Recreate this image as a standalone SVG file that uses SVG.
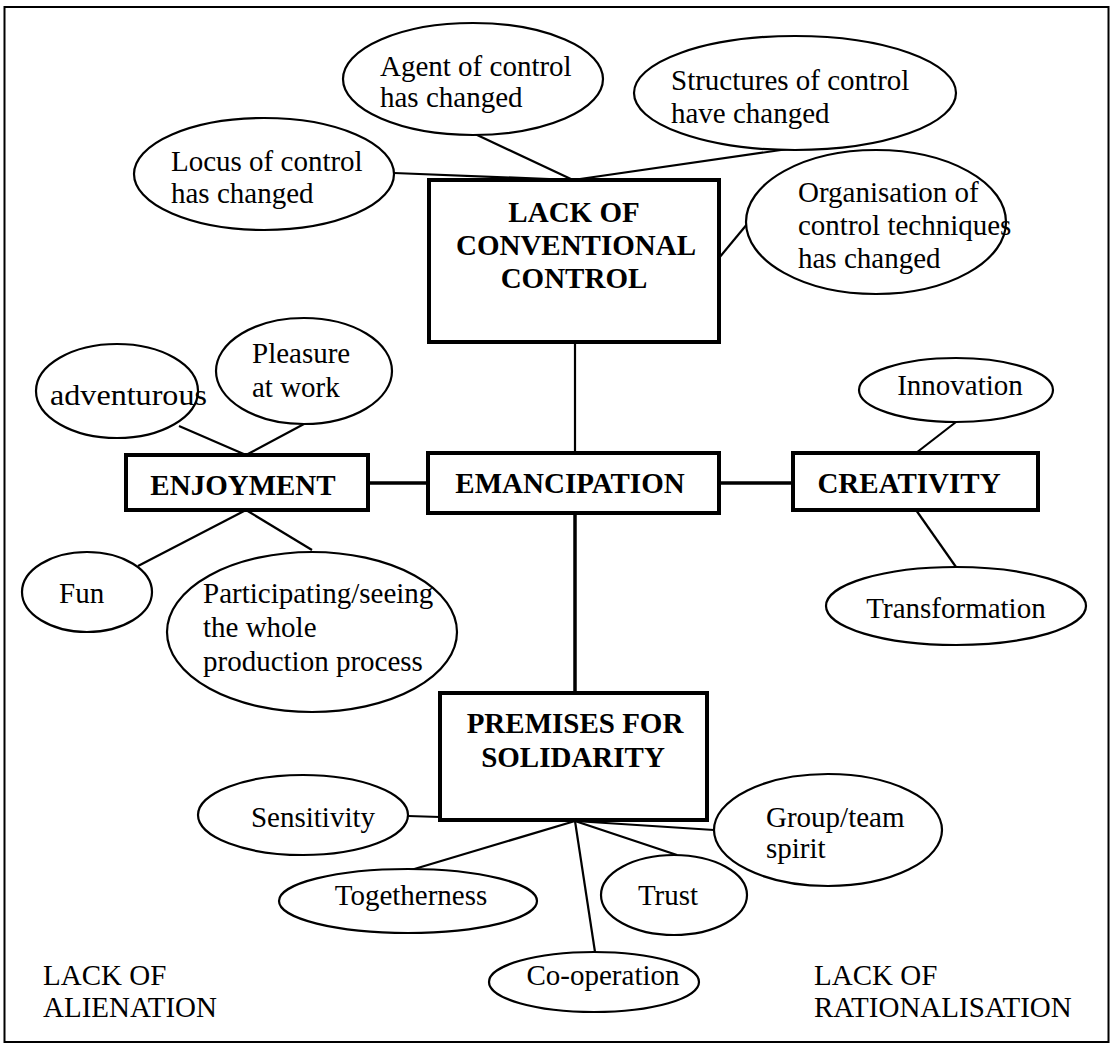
<svg xmlns="http://www.w3.org/2000/svg" width="1112" height="1044" viewBox="0 0 1112 1044">
  <style>
    .frame { fill: none; stroke: #000; stroke-width: 2; }
    .box { fill: #fff; stroke: #000; stroke-width: 4; }
    .oval { fill: #fff; stroke: #000; stroke-width: 2.2; }
    .link { stroke: #000; stroke-width: 2.2; fill: none; }
    .trunk { stroke: #000; stroke-width: 3.5; fill: none; }
    text { font-family: "Liberation Serif", "Times New Roman", serif; fill: #000; }
    .t { font-size: 29px; }
    .b { font-size: 29px; font-weight: bold; text-anchor: middle; }
    .c { text-anchor: middle; }
  </style>

  <rect class="frame" x="4.5" y="7" width="1104" height="1035"/>

  <!-- connectors -->
  <g id="connectors">
    <line class="link" x1="394" y1="173" x2="573" y2="180"/>
    <line class="link" x1="475" y1="134" x2="573" y2="180"/>
    <line class="link" x1="788" y1="149" x2="573" y2="180"/>
    <line class="link" x1="719" y1="258" x2="748" y2="223"/>
    <line class="link" x1="575" y1="342" x2="575" y2="453"/>
    <line class="trunk" x1="368" y1="483" x2="428" y2="483"/>
    <line class="trunk" x1="719" y1="483" x2="793" y2="483"/>
    <line class="trunk" x1="575" y1="513" x2="575" y2="693"/>
    <line class="link" x1="179" y1="426" x2="246" y2="455"/>
    <line class="link" x1="304" y1="424" x2="246" y2="455"/>
    <line class="link" x1="138" y1="566" x2="246" y2="510"/>
    <line class="link" x1="312" y1="550" x2="246" y2="510"/>
    <line class="link" x1="956" y1="422" x2="916" y2="453"/>
    <line class="link" x1="916" y1="510" x2="956" y2="567"/>
    <line class="link" x1="408" y1="816" x2="440" y2="817"/>
    <line class="link" x1="411" y1="870" x2="575" y2="821"/>
    <line class="link" x1="595" y1="952" x2="575" y2="821"/>
    <line class="link" x1="677" y1="855" x2="575" y2="821"/>
    <line class="link" x1="714" y1="830" x2="575" y2="821"/>
  </g>

  <!-- central boxes -->
  <g id="lack-of-conventional-control">
    <rect class="box" x="429" y="180" width="290" height="162"/>
    <text class="b" x="574" y="222">LACK OF</text>
    <text class="b" x="576" y="255">CONVENTIONAL</text>
    <text class="b" x="574" y="288">CONTROL</text>
  </g>
  <g id="emancipation">
    <rect class="box" x="428" y="453" width="291" height="60"/>
    <text class="b" x="570" y="493">EMANCIPATION</text>
  </g>
  <g id="enjoyment">
    <rect class="box" x="126" y="455" width="242" height="55"/>
    <text class="b" x="243" y="495">ENJOYMENT</text>
  </g>
  <g id="creativity">
    <rect class="box" x="793" y="453" width="245" height="57"/>
    <text class="b" x="909" y="493">CREATIVITY</text>
  </g>
  <g id="premises-for-solidarity">
    <rect class="box" x="440" y="693" width="267" height="127"/>
    <text class="b" x="575" y="733">PREMISES FOR</text>
    <text class="b" x="573" y="767">SOLIDARITY</text>
  </g>

  <!-- control ovals -->
  <g id="agent-of-control">
    <ellipse class="oval" cx="473" cy="79" rx="130" ry="56"/>
    <text class="t" x="380" y="76">Agent of control</text>
    <text class="t" x="380" y="107">has changed</text>
  </g>
  <g id="structures-of-control">
    <ellipse class="oval" cx="795" cy="93" rx="161" ry="57"/>
    <text class="t" x="671" y="90">Structures of control</text>
    <text class="t" x="671" y="123">have changed</text>
  </g>
  <g id="locus-of-control">
    <ellipse class="oval" cx="264" cy="174" rx="130" ry="56"/>
    <text class="t" x="171" y="171">Locus of control</text>
    <text class="t" x="171" y="203">has changed</text>
  </g>
  <g id="organisation-of-control">
    <ellipse class="oval" cx="876" cy="222" rx="130" ry="72"/>
    <text class="t" x="798" y="202">Organisation of</text>
    <text class="t" x="798" y="235">control techniques</text>
    <text class="t" x="798" y="268">has changed</text>
  </g>

  <!-- enjoyment ovals -->
  <g id="adventurous">
    <ellipse class="oval" cx="117" cy="391" rx="81" ry="47"/>
    <text class="t" x="50" y="405" textLength="157" lengthAdjust="spacingAndGlyphs">adventurous</text>
  </g>
  <g id="pleasure-at-work">
    <ellipse class="oval" cx="304" cy="371" rx="88" ry="53"/>
    <text class="t" x="252" y="363">Pleasure</text>
    <text class="t" x="252" y="397">at work</text>
  </g>
  <g id="fun">
    <ellipse class="oval" cx="87" cy="592" rx="65" ry="40"/>
    <text class="t" x="59" y="603">Fun</text>
  </g>
  <g id="participating">
    <ellipse class="oval" cx="312" cy="632" rx="145" ry="80"/>
    <text class="t" x="203" y="603">Participating/seeing</text>
    <text class="t" x="203" y="637">the whole</text>
    <text class="t" x="203" y="671">production process</text>
  </g>

  <!-- creativity ovals -->
  <g id="innovation">
    <ellipse class="oval" cx="956" cy="390" rx="97" ry="32"/>
    <text class="t c" x="960" y="395">Innovation</text>
  </g>
  <g id="transformation">
    <ellipse class="oval" cx="956" cy="606" rx="130" ry="39"/>
    <text class="t c" x="956" y="618">Transformation</text>
  </g>

  <!-- solidarity ovals -->
  <g id="sensitivity">
    <ellipse class="oval" cx="303" cy="815" rx="105" ry="40"/>
    <text class="t c" x="313" y="827">Sensitivity</text>
  </g>
  <g id="togetherness">
    <ellipse class="oval" cx="408" cy="901" rx="129" ry="32"/>
    <text class="t c" x="411" y="905">Togetherness</text>
  </g>
  <g id="co-operation">
    <ellipse class="oval" cx="594" cy="982" rx="105" ry="30"/>
    <text class="t c" x="603" y="985">Co-operation</text>
  </g>
  <g id="trust">
    <ellipse class="oval" cx="674" cy="895" rx="73" ry="40"/>
    <text class="t c" x="668" y="905">Trust</text>
  </g>
  <g id="group-team-spirit">
    <ellipse class="oval" cx="828" cy="830" rx="114" ry="56"/>
    <text class="t" x="766" y="827">Group/team</text>
    <text class="t" x="766" y="858">spirit</text>
  </g>

  <!-- corner labels -->
  <g id="lack-of-alienation">
    <text class="t" x="43" y="985">LACK OF</text>
    <text class="t" x="43" y="1017">ALIENATION</text>
  </g>
  <g id="lack-of-rationalisation">
    <text class="t" x="814" y="985">LACK OF</text>
    <text class="t" x="814" y="1017">RATIONALISATION</text>
  </g>
</svg>
